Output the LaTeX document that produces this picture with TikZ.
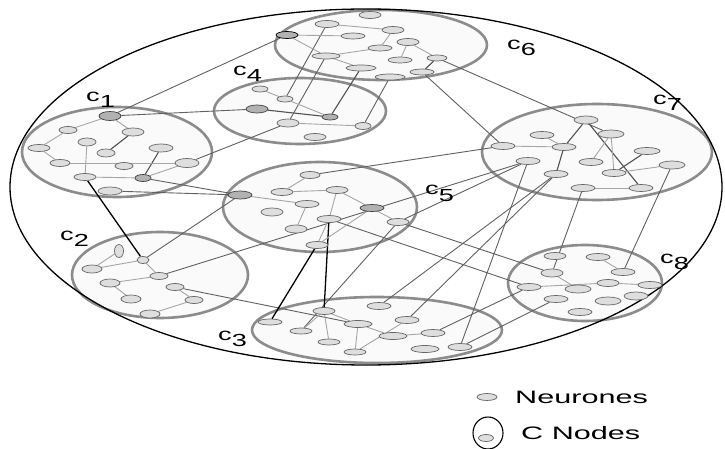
\documentclass[tikz,border=0pt]{standalone}
\usepackage{fontspec}
\setmainfont{Liberation Sans}
\usetikzlibrary{shapes.geometric}
\pgfdeclarelayer{bg}
\pgfdeclarelayer{mid}
\pgfsetlayers{bg,mid,main}
\newcommand{\clabtxt}[1]{\scalebox{1.55}[1]{c\raisebox{-6pt}{#1}}}
\newcommand{\legtxt}[1]{\scalebox{1.7}[1]{#1}}
\begin{document}
\begin{tikzpicture}[x=1pt,y=-1pt,
 neu/.style={ellipse,draw=black!60,fill=black!13,line width=0.7pt,inner sep=0pt,minimum width=20pt,minimum height=8pt},
 dneu/.style={neu,fill=black!30,draw=black!75},
 clus/.style={ellipse,draw=black!45,line width=2.6pt,fill=black!2,inner sep=0pt},
 link/.style={draw=black!62,line width=0.9pt},
 dlink/.style={draw=black,line width=1.3pt},
 ilink/.style={draw=black!35,line width=0.9pt},
 idark/.style={draw=black!68,line width=1.1pt},
 clab/.style={font=\fontsize{17.5}{18}\selectfont,inner sep=0pt,anchor=base west},
 ltext/.style={font=\fontsize{18}{18}\selectfont,inner sep=0pt,anchor=west}]
\useasboundingbox (0,0) rectangle (725,449);

\begin{pgfonlayer}{bg}
\node[clus,minimum width=190pt,minimum height=90pt] (C1) at (117,152) {};
\node[clus,minimum width=172pt,minimum height=66pt] (C4) at (300,111) {};
\node[clus,minimum width=212pt,minimum height=70pt] (C6) at (381,45) {};
\node[clus,minimum width=230pt,minimum height=96pt] (C7) at (597,152) {};
\node[clus,minimum width=194pt,minimum height=90pt] (C5) at (320,207) {};
\node[clus,minimum width=176pt,minimum height=86pt] (C2) at (160,275) {};
\node[clus,minimum width=250pt,minimum height=66pt] (C3) at (377,330) {};
\node[clus,minimum width=154pt,minimum height=76pt] (C8) at (585,283) {};
\node[ellipse,draw=black,line width=1.3pt,inner sep=0pt,minimum width=712pt,minimum height=356pt] (world) at (366,187) {};
\end{pgfonlayer}

% cluster labels
\node[clab] (L1) at (86,102) {\clabtxt{1}};
\node[clab] (L4) at (233,76) {\clabtxt{4}};
\node[clab] (L6) at (507,50) {\clabtxt{6}};
\node[clab] (L7) at (653,105) {\clabtxt{7}};
\node[clab] (L5) at (425,195) {\clabtxt{5}};
\node[clab] (L2) at (60,240) {\clabtxt{2}};
\node[clab] (L3) at (218,340) {\clabtxt{3}};
\node[clab] (L8) at (660,263) {\clabtxt{8}};

% c1 neurons
\node[dneu,minimum width=22pt,minimum height=9pt] (a1) at (110,116) {};
\node[neu,minimum width=18pt,minimum height=7pt] (a2) at (68,130) {};
\node[neu,minimum width=22pt] (a3) at (133,132) {};
\node[neu,minimum width=18pt] (a4) at (87,142) {};
\node[neu,minimum width=22pt,minimum height=7pt] (a5) at (39,148) {};
\node[neu,minimum width=18pt] (a6) at (106,153) {};
\node[neu,minimum width=24pt] (a7) at (161,148) {};
\node[neu,minimum height=7pt] (a8) at (60,163) {};
\node[neu,minimum width=18pt,minimum height=7pt] (a9) at (124,166) {};
\node[neu,minimum width=24pt,minimum height=9pt] (a10) at (187,163) {};
\node[neu,minimum width=22pt,minimum height=7pt] (a11) at (85,177) {};
\node[dneu,minimum width=16pt,minimum height=7pt] (a12) at (143,178) {};
\node[neu,minimum width=24pt] (a13) at (110,191) {};

% c4 neurons
\node[neu,minimum width=16pt,minimum height=6pt] (d1) at (260,89) {};
\node[neu,minimum width=16pt,minimum height=6pt] (d2) at (285,99) {};
\node[dneu,minimum width=22pt] (d3) at (257,109) {};
\node[dneu,minimum width=16pt,minimum height=6pt] (d4) at (330,117) {};
\node[neu,minimum width=22pt] (d5) at (288,123) {};
\node[neu,minimum width=16pt,minimum height=7pt] (d6) at (363,126) {};
\node[neu,minimum width=22pt,minimum height=7pt] (d7) at (315,137) {};

% c6 neurons
\node[neu,minimum width=22pt,minimum height=7pt] (f1) at (370,15) {};
\node[neu,minimum width=24pt,minimum height=7pt] (f2) at (327,24) {};
\node[dneu,minimum width=22pt,minimum height=7pt,draw=black] (f3) at (287,35) {};
\node[neu,minimum width=24pt,minimum height=6pt] (f4) at (353,36) {};
\node[neu,minimum width=22pt,minimum height=7pt] (f5) at (393,30) {};
\node[neu,minimum width=22pt,minimum height=7pt] (f6) at (408,42) {};
\node[neu,minimum width=24pt,minimum height=6pt] (f7) at (380,48) {};
\node[neu,minimum width=28pt,minimum height=6pt] (f8) at (326,56) {};
\node[neu,minimum width=24pt,minimum height=6pt] (f9) at (400,60) {};
\node[neu,minimum width=20pt,minimum height=6pt] (f10) at (437,58) {};
\node[neu,minimum width=30pt,minimum height=6pt] (f11) at (361,68) {};
\node[neu,minimum width=30pt,minimum height=6pt] (f12) at (390,77) {};
\node[neu,minimum width=24pt,minimum height=6pt] (f13) at (422,72) {};

% c7 neurons
\node[neu,minimum width=24pt] (g1) at (586,120) {};
\node[neu,minimum width=24pt,minimum height=7pt] (g2) at (542,135) {};
\node[neu,minimum width=26pt] (g3) at (611,134) {};
\node[neu,minimum width=24pt,minimum height=7pt] (g4) at (503,146) {};
\node[neu,minimum width=24pt,minimum height=7pt] (g5) at (564,147) {};
\node[neu,minimum width=26pt,minimum height=7pt] (g6) at (647,151) {};
\node[neu,minimum width=24pt,minimum height=7pt] (g7) at (528,161) {};
\node[neu,minimum width=24pt,minimum height=7pt] (g8) at (591,162) {};
\node[neu,minimum width=26pt] (g9) at (672,165) {};
\node[neu,minimum width=24pt,minimum height=7pt] (g10) at (556,174) {};
\node[neu,minimum width=24pt,minimum height=7pt] (g11) at (614,173) {};
\node[neu,minimum width=24pt,minimum height=7pt] (g12) at (583,188) {};
\node[neu,minimum width=24pt,minimum height=7pt] (g13) at (641,188) {};

% c5 neurons
\node[neu,minimum height=7pt] (e1) at (310,175) {};
\node[dneu,minimum width=24pt] (e2) at (240,195) {};
\node[neu,minimum width=22pt,minimum height=7pt] (e3) at (282,192) {};
\node[neu,minimum width=22pt,minimum height=7pt] (e4) at (337,190) {};
\node[neu,minimum width=24pt,minimum height=7pt] (e5) at (307,204) {};
\node[neu,minimum width=22pt] (e6) at (272,212) {};
\node[dneu,minimum width=24pt,minimum height=7pt] (e7) at (372,208) {};
\node[neu,minimum width=24pt,minimum height=7pt] (e8) at (329,219) {};
\node[neu,minimum width=22pt,minimum height=7pt] (e9) at (398,222) {};
\node[neu,minimum width=22pt] (e10) at (296,229) {};
\node[neu,minimum width=22pt,minimum height=7pt] (e11) at (317,245) {};

% c2 neurons
\node[neu,minimum width=9pt,minimum height=13pt] (b1) at (119,251) {};
\node[neu,minimum width=12pt,minimum height=7pt] (b2) at (143,260) {};
\node[neu] (b3) at (92,269) {};
\node[neu,minimum width=18pt,minimum height=7pt] (b4) at (159,276) {};
\node[neu] (b5) at (110,283) {};
\node[neu,minimum width=18pt,minimum height=7pt] (b6) at (175,287) {};
\node[neu] (b7) at (131,299) {};
\node[neu,minimum width=18pt,minimum height=7pt] (b8) at (194,300) {};
\node[neu] (b9) at (150,314) {};

% c3 neurons
\node[neu,minimum width=24pt,minimum height=6pt] (h1) at (270,322) {};
\node[neu,minimum width=22pt,minimum height=7pt] (h2) at (324,311) {};
\node[neu,minimum width=24pt,minimum height=7pt] (h3) at (379,306) {};
\node[neu,minimum width=28pt,minimum height=7pt] (h4) at (358,324) {};
\node[neu,minimum width=24pt,minimum height=7pt] (h5) at (407,320) {};
\node[neu,minimum width=22pt,minimum height=6pt] (h6) at (301,331) {};
\node[neu,minimum width=22pt,minimum height=6pt] (h7) at (329,342) {};
\node[neu,minimum width=28pt,minimum height=7pt] (h8) at (393,336) {};
\node[neu,minimum width=24pt,minimum height=7pt] (h9) at (433,333) {};
\node[neu,minimum width=22pt,minimum height=6pt] (h10) at (355,352) {};
\node[neu,minimum width=28pt,minimum height=7pt] (h11) at (425,349) {};
\node[neu,minimum width=24pt,minimum height=7pt] (h12) at (460,347) {};

% c8 neurons
\node[neu,minimum width=22pt,minimum height=7pt] (k1) at (555,256) {};
\node[neu,minimum width=24pt,minimum height=7pt] (k2) at (598,257) {};
\node[neu,minimum width=22pt] (k3) at (552,273) {};
\node[neu,minimum width=24pt,minimum height=7pt] (k4) at (623,272) {};
\node[neu,minimum width=24pt,minimum height=7pt] (k5) at (529,287) {};
\node[neu,minimum width=26pt] (k6) at (578,289) {};
\node[neu,minimum width=22pt,minimum height=7pt] (k7) at (608,283) {};
\node[neu,minimum width=24pt,minimum height=7pt] (k8) at (650,285) {};
\node[neu,minimum width=24pt,minimum height=7pt] (k9) at (556,299) {};
\node[neu,minimum width=26pt] (k10) at (608,301) {};
\node[neu,minimum width=24pt] (k11) at (636,296) {};
\node[neu,minimum width=24pt,minimum height=7pt] (k12) at (580,312) {};

\begin{pgfonlayer}{mid}
% inter-cluster links
\draw[link] (f3) -- (a1);
\draw[link] (a1) -- (d3);
\draw[link] (a10) -- (d5);
\draw[link] (a13) -- (e2);
\draw[link] (a12) -- (e2);
\draw[link] (f2) -- (d2);
\draw[link] (f8) -- (d5);
\draw[idark] (f11) -- (d4);
\draw[link] (f12) -- (d6);
\draw[link] (f13) -- (g4);
\draw[link] (f10) -- (g3);
\draw[link] (b2) -- (e2);
\draw[link] (b4) -- (g7);
\draw[link] (e1) -- (g4);
\draw[link] (e9) -- (g7);
\draw[link] (b6) -- (h4);
\draw[link] (e9) -- (h6);
\draw[link] (e8) -- (k5);
\draw[link] (e9) -- (k3);
\draw[link] (g7) -- (h12);
\draw[link] (g10) -- (h3);
\draw[link] (g10) -- (h5);
\draw[link] (k5) -- (h9);
\draw[link] (k9) -- (h12);
\draw[link] (k3) -- (g12);
\draw[link] (k4) -- (g9);
\draw[dlink] (a11) -- (b2);
\draw[dlink] (e11) -- (h1);
\draw[dlink] (e8) -- (h2);
% c1 internal
\draw[ilink] (a1) -- (a2);
\draw[ilink] (a2) -- (a5);
\draw[ilink] (a4) -- (a11);
\draw[idark] (a6) -- (a3);
\draw[idark] (a7) -- (a12);
\draw[ilink] (a8) -- (a10);
\draw[ilink] (a12) -- (a10);
\draw[ilink] (a11) -- (a12);
\draw[ilink] (a1) -- (a3);
\draw[ilink] (a5) -- (a8);
% c4 internal
\draw[ilink] (d2) -- (d4);
\draw[idark] (d3) -- (d4);
\draw[ilink] (d5) -- (d6);
\draw[ilink] (d1) -- (d2);
% c6 internal
\draw[ilink] (f3) -- (f4);
\draw[ilink] (f2) -- (f5);
\draw[ilink] (f3) -- (f8);
\draw[ilink] (f8) -- (f7);
\draw[ilink] (f5) -- (f7);
\draw[ilink] (f6) -- (f10);
\draw[idark] (f10) -- (f13);
\draw[ilink] (f6) -- (f9);
\draw[ilink] (f8) -- (f11);
% c7 internal
\draw[idark] (g1) -- (g5);
\draw[idark] (g1) -- (g13);
\draw[ilink] (g3) -- (g11);
\draw[ilink] (g3) -- (g8);
\draw[ilink] (g2) -- (g5);
\draw[ilink] (g4) -- (g5);
\draw[idark] (g5) -- (g10);
\draw[idark] (g6) -- (g11);
\draw[ilink] (g11) -- (g9);
\draw[ilink] (g12) -- (g13);
% c5 internal
\draw[ilink] (e1) -- (e3);
\draw[ilink] (e3) -- (e4);
\draw[ilink] (e4) -- (e8);
\draw[ilink] (e5) -- (e10);
\draw[ilink] (e4) -- (e9);
\draw[ilink] (e8) -- (e11);
\draw[ilink] (e7) -- (e11);
\draw[ilink] (e2) -- (e5);
% c2 internal
\draw[ilink] (b1) -- (b3);
\draw[ilink] (b3) -- (b2);
\draw[ilink] (b2) -- (b4);
\draw[ilink] (b5) -- (b4);
\draw[ilink] (b5) -- (b7);
\draw[ilink] (b9) -- (b8);
\draw[ilink] (b6) -- (b8);
% c3 internal
\draw[ilink] (h2) -- (h7);
\draw[ilink] (h2) -- (h4);
\draw[ilink] (h4) -- (h10);
\draw[ilink] (h10) -- (h5);
\draw[ilink] (h4) -- (h8);
\draw[ilink] (h6) -- (h2);
\draw[ilink] (h8) -- (h9);
% c8 internal
\draw[ilink] (k5) -- (k7);
\draw[ilink] (k2) -- (k4);
\draw[ilink] (k3) -- (k6);
\draw[ilink] (k7) -- (k8);
\end{pgfonlayer}

% legend
\node[neu,minimum width=20pt,minimum height=7pt] (lg1) at (487,397) {};
\node[ltext] (lt1) at (515,397) {\legtxt{Neurones}};
\node[ellipse,draw=black,line width=1.1pt,inner sep=0pt,minimum width=30pt,minimum height=32pt] (lg2) at (488,433) {};
\node[neu,minimum width=15pt,minimum height=7pt] (lg3) at (486,438) {};
\node[ltext] (lt2) at (521,433) {\legtxt{C Nodes}};
\end{tikzpicture}
\end{document}
